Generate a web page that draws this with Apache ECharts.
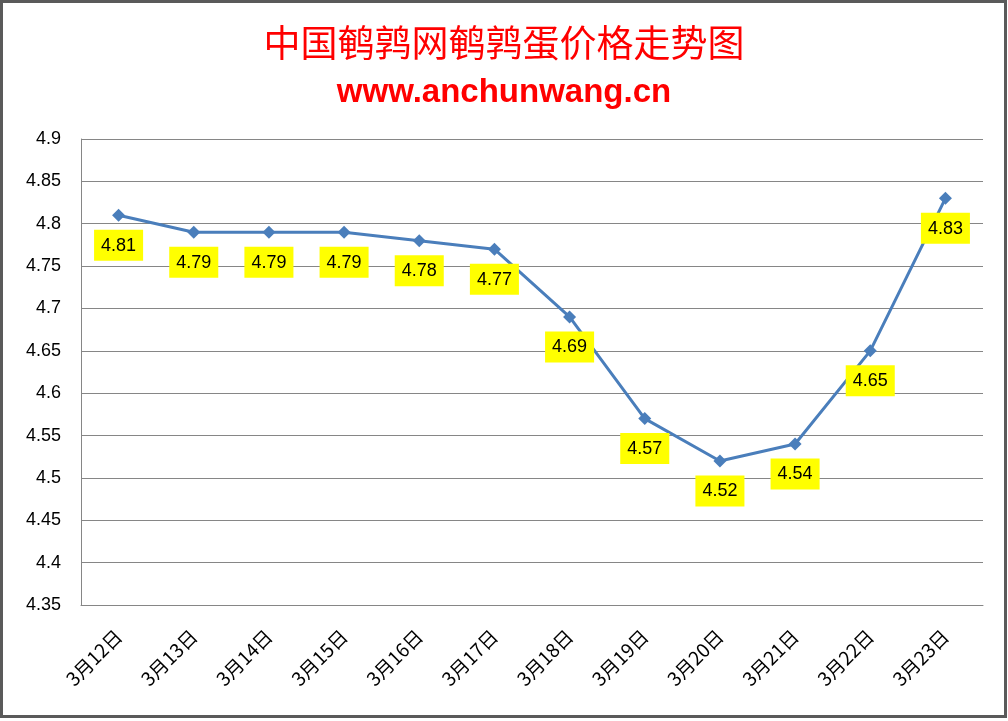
<!DOCTYPE html>
<html><head><meta charset="utf-8">
<script src="https://cdn.jsdelivr.net/npm/echarts@6/dist/echarts.min.js"></script>
<style>html,body{margin:0;padding:0;background:#fff}#c{width:1008px;height:721px}</style>
</head><body><div id="c"></div>
<script>
const categories = ['3月12日','3月13日','3月14日','3月15日','3月16日','3月17日','3月18日','3月19日','3月20日','3月21日','3月22日','3月23日'];
const prices = [4.81,4.79,4.79,4.79,4.78,4.77,4.69,4.57,4.52,4.54,4.65,4.83];
const yTicks = {min:4.35,max:4.9,interval:0.05};
const titleText = '中国鹌鹑网鹌鹑蛋价格走势图';
const subText = 'www.anchunwang.cn';

const chart = echarts.init(document.getElementById('c'));
chart.setOption({
  animation:false,
  backgroundColor:'#fff',
  title:[{text:titleText,left:'center',top:19,textStyle:{color:'#ff0000',fontSize:37,fontWeight:'normal',fontFamily:'Noto Sans CJK SC'}},
         {text:subText,left:'center',top:71,textStyle:{color:'#ff0000',fontSize:33,fontWeight:'bold',fontFamily:'Liberation Sans'}}],
  graphic:[{type:'rect',shape:{x:1.5,y:1.5,width:1004,height:715},style:{fill:'none',stroke:'#5a5a5a',lineWidth:3},z:100}],
  grid:{left:81,right:25,top:139,bottom:116,containLabel:false},
  xAxis:{type:'category',data:categories,boundaryGap:true,
    axisLine:{lineStyle:{color:'#868686',width:1}},
    axisTick:{show:false},
    axisLabel:{rotate:45,margin:28,fontSize:19,color:'#000',fontFamily:'Noto Sans CJK SC'}},
  yAxis:{type:'value',min:yTicks.min,max:yTicks.max,interval:yTicks.interval,
    axisLine:{show:true,lineStyle:{color:'#868686',width:1}},
    axisTick:{show:false},
    splitLine:{lineStyle:{color:'#868686',width:1}},
    axisLabel:{margin:20,fontSize:18,color:'#000',fontFamily:'Liberation Sans',
      formatter:v=>String(parseFloat(v.toFixed(2)))}},
  series:[{type:'line',data:prices,symbol:'diamond',symbolSize:13,
    lineStyle:{color:'#4a7ebb',width:3},itemStyle:{color:'#4a7ebb'},
    label:{show:true,position:'bottom',distance:8,fontSize:18,color:'#000',fontFamily:'Liberation Sans',
      backgroundColor:'#ffff00',padding:[7,7,6,7]}}]
});
</script></body></html>
